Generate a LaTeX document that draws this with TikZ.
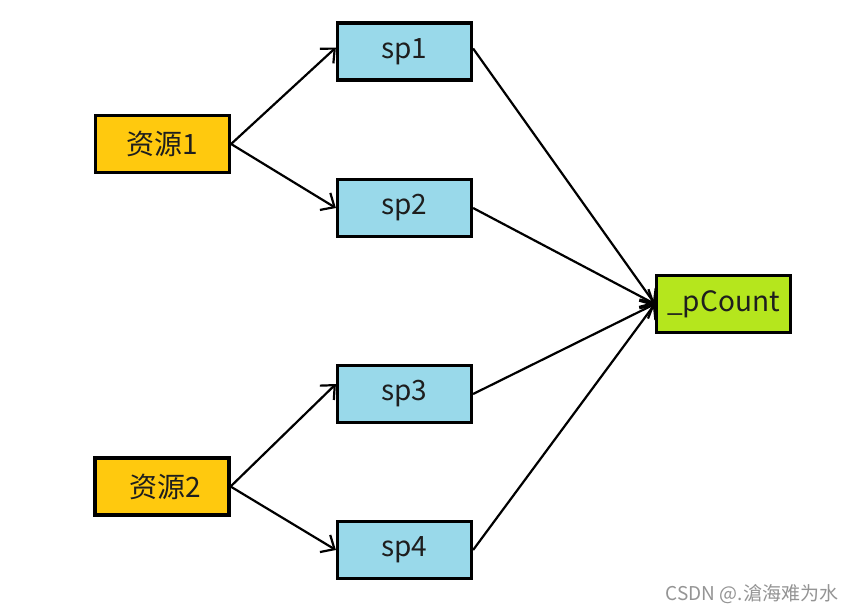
\documentclass[tikz,border=0pt]{standalone}
\usepackage{fontspec}
\setmainfont{Noto Sans CJK SC}
\usetikzlibrary{arrows.meta}
\definecolor{cgold}{HTML}{FFC90E}
\definecolor{cblue}{HTML}{99D9EA}
\definecolor{clime}{HTML}{B5E61D}
\definecolor{ctext}{HTML}{1E1E1E}
\begin{document}
\begin{tikzpicture}[x=1pt,y=-1pt,
  box/.style={draw=black,line width=3.2pt,minimum width=134pt,minimum height=57pt,inner sep=0pt,font=\fontsize{28}{32}\selectfont,text=ctext},
  res/.style={box,fill=cgold},
  spbox/.style={box,fill=cblue},
  cnt/.style={box,fill=clime},
  conn/.style={line width=2.2pt,-{Straight Barb[length=11pt,width=20pt,line width=2.2pt]}}]
\useasboundingbox (0,0) rectangle (857,613);
\fill[white] (0,0) rectangle (857,613);
\node[res] (r1) at (162.5,144) {资源1};
\node[res] (r2) at (162,486.5) {\hspace{6pt}资源2};
\node[spbox] (sp1) at (404.5,51.5) {sp1};
\node[spbox] (sp2) at (404.5,208) {sp2};
\node[spbox] (sp3) at (404.5,394) {sp3};
\node[spbox] (sp4) at (404.5,550) {sp4};
\node[cnt] (pc) at (723.5,304) {\_pCount};
\draw[conn] (r1.east) -- ([yshift=4pt]sp1.west);
\draw[conn] (r1.east) -- (sp2.west);
\draw[conn] (r2.east) -- ([yshift=10pt]sp3.west);
\draw[conn] (r2.east) -- (sp4.west);
\draw[conn] ([yshift=3pt]sp1.east) -- (pc.west);
\draw[conn] (sp2.east) -- (pc.west);
\draw[conn] (sp3.east) -- (pc.west);
\draw[conn] (sp4.east) -- (pc.west);
\node[text=black!42,font=\fontsize{19}{21}\selectfont,anchor=center] (wm) at (752,594) {CSDN @.滄海难为水};
\end{tikzpicture}
\end{document}
